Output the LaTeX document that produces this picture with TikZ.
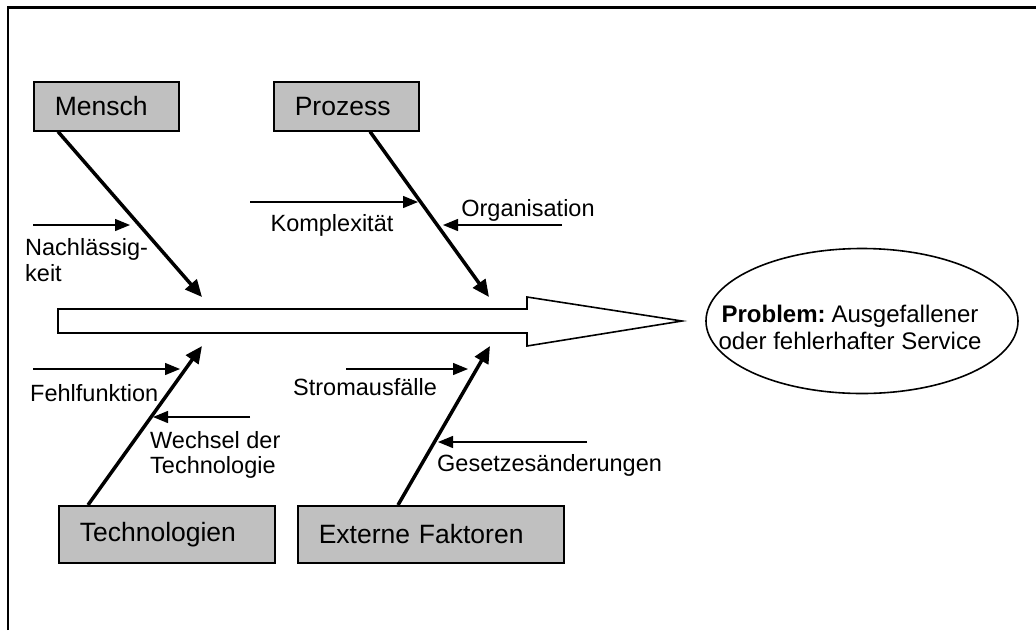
\documentclass[tikz,border=0pt]{standalone}
\usepackage{fontspec}
\setmainfont{Liberation Sans}
\usetikzlibrary{arrows.meta,shapes.geometric}
\definecolor{boxgray}{RGB}{192,192,192}
\begin{document}
\begin{tikzpicture}[x=1pt,y=-1pt,
  cause/.style={draw=black, line width=1.6pt, fill=boxgray, minimum height=49pt,
    inner xsep=21pt, inner ysep=0pt, align=left, anchor=north west,
    font=\fontsize{26.5}{30}\selectfont},
  lab/.style={inner sep=0pt, align=left, font=\fontsize{23.5}{25.5}\selectfont},
  bone/.style={line width=3.5pt, -{Triangle[length=17pt,width=15pt]}},
  hint/.style={line width=1.3pt, -{Triangle[length=15pt,width=12pt]}}]
\useasboundingbox (0,0) rectangle (1036,630);

% outer frame (top and left edges)
\draw[line width=2.2pt] (8,630) -- (8,7.5) -- (1036,7.5);

% spine of the fishbone
\draw[line width=1.6pt, fill=white, line join=miter]
  (58,309) -- (527,309) -- (527,297) -- (682,321) -- (527,346) -- (527,333) -- (58,333) -- cycle;

% effect
\node[draw=black, line width=1.6pt, ellipse, minimum width=312pt, minimum height=145pt,
  inner sep=0pt] (problem) at (862,321) {};
\node[align=center, inner sep=0pt, font=\fontsize{24}{27}\selectfont] (ptext) at (850,327)
  {\textbf{Problem:}\hspace{0.25em}Ausgefallener\\oder fehlerhafter Service};

% main causes
\node[cause, text width=103pt] (mensch) at (33,81) {Mensch};
\node[cause, text width=103pt] (prozess) at (273,81) {Prozess};
\node[cause, text width=174pt, minimum height=57pt] (tech) at (58,505) {Technologien};
\node[cause, text width=224pt, minimum height=57pt] (extern) at (297,505) {Externe Faktoren};

% bone tips at the spine
\coordinate (mtip) at (202,297);
\coordinate (ptip) at (489,297);
\coordinate (ttip) at (202,346);
\coordinate (etip) at (490,346);

\draw[bone] ([xshift=25pt]mensch.south west) -- (mtip);
\draw[bone] ([xshift=97pt]prozess.south west) -- (ptip);
\draw[bone] ([xshift=30pt]tech.north west) -- (ttip);
\draw[bone] ([xshift=101pt]extern.north west) -- (etip);

% sub-causes
\coordinate (nachA) at (33,225);   \coordinate (nachB) at (130,225);
\coordinate (kompA) at (250,202);  \coordinate (kompB) at (418,202);
\coordinate (orgaA) at (562,225);  \coordinate (orgaB) at (443,225);
\coordinate (fehlA) at (33,369);   \coordinate (fehlB) at (180,369);
\coordinate (wechA) at (250,417);  \coordinate (wechB) at (153,417);
\coordinate (stroA) at (346,369);  \coordinate (stroB) at (468,369);
\coordinate (gesA) at (587,442);   \coordinate (gesB) at (438,442);

\draw[hint] (nachA) -- (nachB);
\draw[hint] (kompA) -- (kompB);
\draw[hint] (orgaA) -- (orgaB);
\draw[hint] (fehlA) -- (fehlB);
\draw[hint] (wechA) -- (wechB);
\draw[hint] (stroA) -- (stroB);
\draw[hint] (gesA) -- (gesB);

\node[lab, anchor=west] (nach) at (25,260) {Nachlässig-\\keit};
\node[lab] (komp) at (332,225) {Komplexität};
\node[lab] (orga) at (528,210) {Organisation};
\node[lab, anchor=west] (fehl) at (30,393) {Fehlfunktion};
\node[lab, anchor=west] (wech) at (150,455) {Wechsel der\\Technologie};
\node[lab, anchor=west] (stro) at (293,387) {Stromausfälle};
\node[lab, anchor=west] (ges) at (437,465) {Gesetzesänderungen};
\end{tikzpicture}
\end{document}
